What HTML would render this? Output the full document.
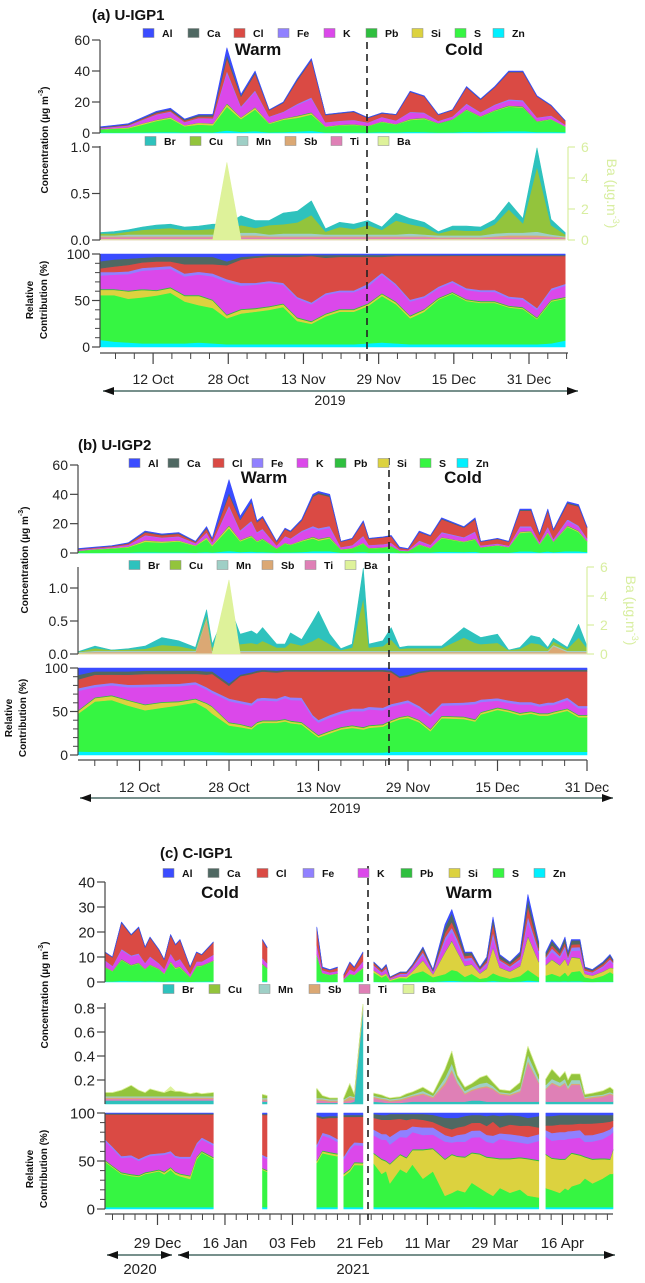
<!DOCTYPE html>
<html><head><meta charset="utf-8">
<style>
html,body{margin:0;padding:0;background:#fff;}
svg{display:block;font-family:"Liberation Sans",Arial,sans-serif;}
</style></head>
<body>
<svg id="chart" width="645" height="1283" viewBox="0 0 645 1283" xmlns="http://www.w3.org/2000/svg"></svg>
<script>
// ===== Panel (a) U-IGP1 =====
const aDays=[0,3,6,9,12,15,18,21,24,27,30,33,36,39,42,45,48,51,54,57,60,63,66,69,72,75,78,81,84,87,90,93,96,99];
const aTotal=[4,5,6,10,14,16,9,12,12,55,25,40,15,20,35,48,12,13,14,10,13,12,27,24,12,15,30,22,30,40,40,24,18,8];
const aZn=[8,6,5,4,4,4,4,5,4,3,3,3,3,3,3,3,3,3,3,4,5,4,3,3,3,3,3,3,3,3,3,3,4,7];
const aS=[50,52,48,50,52,55,45,40,38,28,33,35,37,40,25,22,30,35,35,40,50,42,28,35,48,55,47,45,45,40,38,27,45,45];
const aSi=[6,6,8,8,5,5,6,10,8,3,4,3,3,3,3,2,2,2,2,2,2,2,2,2,1,1,1,1,1,1,1,1,1,1];
const aPb=[1,1,1,1,1,1,1,1,1,1,1,1,1,1,1,1,1,1,1,1,1,1,1,1,1,1,1,1,1,1,1,1,1,1];
const aK=[15,16,18,20,22,20,20,22,25,35,25,25,25,20,20,18,20,18,18,18,20,17,15,12,10,10,10,10,10,8,8,8,10,12];
const aFe=[4,3,3,3,3,3,3,3,3,3,3,2,2,2,2,2,2,2,2,3,2,2,2,2,2,2,2,2,2,2,2,2,2,2];
const aCl=[4,6,7,6,6,5,10,8,10,15,25,27,26,28,43,50,38,36,36,29,17,30,47,43,33,27,35,37,37,44,45,56,35,30];
const aCa=[8,8,7,5,5,5,8,8,8,4,3,2,2,2,2,1,3,2,2,2,2,1,1,1,1,1,1,1,1,1,1,1,1,1];
const aAl=[8,6,5,4,3,3,3,3,3,8,3,2,1,1,1,1,1,1,1,1,1,1,1,1,1,1,1,1,1,1,1,1,1,1];
const aBr=[0.01,0.02,0.02,0.03,0.04,0.04,0.03,0.04,0.05,0.06,0.1,0.08,0.05,0.12,0.12,0.15,0.03,0.05,0.05,0.05,0.03,0.08,0.06,0.05,0.02,0.04,0.05,0.04,0.05,0.08,0.05,0.2,0.06,0.02];
const aCu=[0.02,0.02,0.03,0.05,0.06,0.07,0.05,0.05,0.06,0.05,0.08,0.05,0.1,0.1,0.12,0.2,0.03,0.08,0.06,0.1,0.05,0.15,0.1,0.08,0.02,0.06,0.05,0.05,0.1,0.25,0.1,0.7,0.1,0.02];
const aMn=[0.01,0.01,0.02,0.02,0.02,0.02,0.02,0.02,0.02,0.02,0.03,0.03,0.02,0.03,0.03,0.03,0.02,0.02,0.02,0.02,0.02,0.02,0.03,0.02,0.02,0.02,0.02,0.02,0.03,0.03,0.03,0.04,0.02,0.01];
const aSb=[0.01,0.01,0.01,0.01,0.01,0.01,0.01,0.01,0.01,0.01,0.02,0.02,0.01,0.01,0.01,0.01,0.01,0.01,0.01,0.01,0.01,0.01,0.01,0.01,0.01,0.01,0.01,0.01,0.01,0.02,0.02,0.02,0.01,0.01];
const aTi=[0.03,0.03,0.03,0.03,0.03,0.03,0.03,0.03,0.03,0.03,0.03,0.03,0.03,0.03,0.03,0.03,0.03,0.03,0.03,0.03,0.03,0.03,0.03,0.03,0.02,0.02,0.02,0.02,0.03,0.03,0.03,0.03,0.03,0.02];
const aBa=[0.03,0.03,0.03,0.03,0.03,0.03,0.03,0.03,0.03,5.0,0.03,0.03,0.03,0.03,0.03,0.03,0.03,0.03,0.03,0.03,0.03,0.03,0.03,0.03,0.03,0.03,0.03,0.03,0.03,0.03,0.03,0.03,0.03,0.03];
const aDateLabels=['12 Oct','28 Oct','13 Nov','29 Nov','15 Dec','31 Dec'];
const aDateDays=[11.3,27.3,43.3,59.3,75.3,91.3];

// ===== Panel (b) U-IGP2 =====
const bDays=[0,3,6,9,12,15,18,21,23,24,27,29,31,32,33,35.5,37,38,40,42,43,45,47,49,51,52,54.5,56,57.5,59,61,63,65,69,71,72,75,77,79,81,82.5,84,85,87.5,89.5,91];
const bTotal=[3,4,5,7,15,13,14,8,18,10,50,25,37,22,25,8,17,15,23,40,42,40,8,10,22,10,11,12,4,3,15,12,24,18,24,8,10,8,30,30,13,30,16,35,33,18];
const bZn=[4,4,4,4,4,4,4,4,4,4,3,3,3,3,3,3,3,3,3,3,3,3,3,3,3,3,3,4,4,4,4,4,4,4,4,4,4,4,4,4,4,4,4,4,4,4];
const bS=[43,60,63,55,48,52,56,60,52,46,32,31,28,32,34,34,36,34,32,22,17,22,26,28,26,28,30,35,40,40,36,24,40,40,36,45,50,48,44,46,44,44,46,50,42,42];
const bSi=[3,4,5,6,6,6,4,4,6,8,3,3,2,2,2,2,2,2,2,2,2,2,2,2,2,2,2,2,2,2,2,2,2,2,2,2,2,2,2,2,2,2,2,2,2,2];
const bPb=[1,1,1,1,1,1,1,1,1,1,1,1,1,1,1,1,1,1,1,1,1,1,1,1,1,1,1,1,1,1,1,1,1,1,1,1,1,1,1,1,1,1,1,1,1,1];
const bK=[22,12,12,15,20,18,18,17,16,16,25,25,25,24,23,22,24,24,25,15,14,15,15,16,18,18,16,16,15,15,14,14,12,14,18,12,8,8,10,8,8,10,8,10,8,8];
const bFe=[3,3,3,3,3,3,3,3,3,3,3,3,3,3,3,3,3,3,3,3,3,3,3,3,3,3,3,3,3,3,3,3,3,3,3,3,3,3,3,3,3,3,3,3,3,3];
const bCl=[10,12,10,12,12,12,12,10,15,20,15,30,35,30,30,30,28,30,30,50,55,50,45,42,42,40,42,38,30,28,40,50,38,38,36,34,32,35,37,37,40,38,38,32,42,42];
const bCa=[5,4,4,4,4,4,4,4,4,3,3,2,2,2,2,2,2,2,2,2,2,2,2,2,2,2,2,2,2,2,2,2,2,2,2,2,2,2,2,2,2,2,2,2,2,2];
const bAl=[8,4,4,4,3,3,3,3,4,4,18,8,5,3,2,3,2,2,2,2,2,2,2,2,2,2,2,3,10,8,4,2,2,2,2,2,2,2,2,2,2,2,2,2,2,2];
const bBr=[0.0,0.03,0.0,0.01,0.04,0.11,0.08,0.03,0.08,0.05,0.4,0.15,0.18,0.15,0.2,0.05,0.05,0.15,0.09,0.3,0.4,0.15,0.02,0.05,0.45,0.05,0.08,0.18,0.02,0.03,0.03,0.03,0.03,0.15,0.13,0.1,0.13,0.0,0.02,0.11,0.1,0.02,0.05,0.02,0.2,0.03];
const bCu=[0.005,0.04,0.01,0.02,0.03,0.09,0.07,0.02,0.04,0.05,0.3,0.1,0.12,0.1,0.15,0.05,0.05,0.12,0.08,0.15,0.2,0.1,0.01,0.05,0.8,0.05,0.07,0.17,0.03,0.04,0.04,0.04,0.04,0.2,0.12,0.1,0.12,0.01,0.03,0.12,0.1,0.03,0.05,0.03,0.2,0.04];
const bMn=[0.01,0.02,0.02,0.02,0.02,0.02,0.02,0.02,0.02,0.02,0.02,0.02,0.02,0.02,0.02,0.02,0.02,0.02,0.02,0.02,0.02,0.02,0.02,0.02,0.02,0.02,0.02,0.02,0.02,0.02,0.02,0.02,0.02,0.02,0.02,0.02,0.02,0.02,0.02,0.02,0.02,0.02,0.02,0.02,0.02,0.02];
const bSb=[0.01,0.01,0.01,0.01,0.01,0.01,0.01,0.01,0.51,0.01,0.01,0.01,0.01,0.01,0.01,0.01,0.01,0.01,0.01,0.01,0.01,0.01,0.01,0.01,0.01,0.01,0.01,0.01,0.01,0.01,0.01,0.01,0.01,0.01,0.01,0.01,0.01,0.01,0.01,0.01,0.01,0.01,0.1,0.01,0.01,0.01];
const bTi=[0.01,0.02,0.02,0.02,0.02,0.02,0.02,0.02,0.02,0.02,0.02,0.02,0.02,0.02,0.02,0.02,0.02,0.02,0.02,0.02,0.02,0.02,0.02,0.02,0.02,0.02,0.02,0.02,0.02,0.02,0.02,0.02,0.02,0.02,0.02,0.02,0.02,0.02,0.02,0.02,0.02,0.02,0.02,0.02,0.02,0.02];
const bBa=[0.02,0.02,0.02,0.02,0.02,0.02,0.02,0.02,0.02,0.02,5.1,0.02,0.02,0.02,0.02,0.02,0.02,0.02,0.02,0.02,0.02,0.02,0.02,0.02,0.02,0.02,0.02,0.02,0.02,0.02,0.02,0.02,0.02,0.02,0.02,0.02,0.02,0.02,0.02,0.02,0.02,0.02,0.02,0.02,0.02,0.02];
const bDateLabels=['12 Oct','28 Oct','13 Nov','29 Nov','15 Dec','31 Dec'];
const bDateDays=[11,27,43,59,75,91];

// ===== Panel (c) C-IGP1 =====
const cDays=[0,2,4.4,7,9,10.7,12,14.4,15.8,17.5,18.8,20,22.7,24.4,25.8,28.9,42,43.2,56.5,58,60,62,63.7,65.3,66.5,68.8,71.7,73.8,75,76,78.7,80.4,82,84.8,87.5,90.7,92.5,94,96,97.8,100,101.8,103.5,105.3,108,110.7,112.8,115.7,117.6,119.2,121.3,122.7,123.5,124.4,126.7,128,130,132.8,134.7,135.5];
const cSegments=[[0,15],[16,17],[18,21],[22,25],[26,47],[48,59]];
const cTotal=[12,10,24,19,22,14,18,13,9,19,15,17,6,12,11,16,17,14,22,6,5,6,3,8,6,12,8,5,7,2,4,4,7,14,5,23,29,22,12,12,6,10,26,11,8,12,35,16,12,17,13,18,12,17,17,6,5,8,11,9];
const cZn=[2,2,2,2,2,2,2,2,2,2,2,2,2,2,2,2,2,2,2,2,2,2,2,2,2,2,2,2,2,2,2,2,2,2,2,2,2,2,2,2,2,2,2,2,2,2,2,2,2,2,2,2,2,2,2,2,2,2,2,2];
const cS=[48,42,35,33,32,35,36,38,35,40,35,33,30,50,57,50,40,38,48,58,55,53,33,38,45,45,45,35,38,25,40,35,45,30,40,12,15,18,15,25,20,15,12,20,15,18,12,10,20,18,15,20,18,22,25,30,25,30,35,35];
const cSi=[1,1,1,1,1,1,1,1,2,2,2,2,3,2,1,1,1,1,2,2,2,2,2,2,2,2,10,15,10,20,15,15,15,30,25,38,40,35,35,30,35,35,40,30,35,32,38,38,35,33,35,30,35,35,30,22,25,20,15,25];
const cPb=[1,1,1,1,1,1,1,1,1,1,1,1,1,1,1,1,1,1,1,1,1,1,1,1,1,1,1,1,1,1,1,1,1,1,1,1,1,1,1,1,1,1,1,1,1,1,1,1,1,1,1,1,1,1,1,1,1,1,1,1];
const cK=[20,18,15,18,15,15,16,15,18,15,15,16,18,12,12,12,12,12,14,16,15,12,15,20,18,18,18,20,22,20,18,20,18,15,15,18,12,15,15,15,17,15,15,20,18,15,15,20,18,18,20,20,18,15,18,15,18,20,25,18];
const cFe=[2,2,2,2,2,2,2,2,2,2,2,2,2,2,2,2,2,2,3,3,3,3,3,3,3,3,6,6,6,8,7,8,6,8,8,7,6,7,8,7,7,7,8,6,7,7,7,7,7,8,8,8,8,8,8,7,7,7,6,6];
const cCl=[26,34,44,43,47,44,42,41,41,39,44,45,45,30,24,30,43,45,30,15,18,22,42,32,27,28,12,15,15,18,12,10,8,8,6,8,8,8,8,8,8,9,15,6,10,10,12,7,5,8,8,8,7,7,7,12,12,10,8,6];
const cCa=[1,1,1,1,1,1,1,1,1,1,1,1,1,1,1,1,1,1,2,2,2,2,2,2,2,2,4,5,5,6,5,6,5,6,8,10,12,10,10,8,8,10,7,12,10,10,8,12,10,10,10,10,10,10,9,9,9,8,7,6];
const cAl=[0.5,0.5,0.5,0.5,0.5,0.5,0.5,0.5,0.5,0.5,0.5,0.5,0.5,0.5,0.5,0.5,1,1,2,4,3,3,2,2,2,2,1,2,2,1,1,1,1,1,2,5,5,5,3,2,2,3,2,3,2,3,5,3,3,3,2,2,2,2,2,2,2,2,2,2];
const cBr=[0.03,0.03,0.03,0.03,0.03,0.03,0.03,0.03,0.03,0.03,0.03,0.03,0.03,0.03,0.03,0.03,0.02,0.02,0.01,0.01,0.01,0.01,0.01,0.01,0.02,0.78,0.02,0.015,0.01,0.01,0.01,0.015,0.02,0.02,0.02,0.02,0.02,0.02,0.02,0.03,0.03,0.02,0.02,0.02,0.02,0.02,0.02,0.02,0.02,0.02,0.02,0.02,0.02,0.02,0.02,0.02,0.02,0.02,0.02,0.02];
const cTi=[0.015,0.015,0.015,0.015,0.015,0.015,0.015,0.015,0.015,0.015,0.015,0.015,0.015,0.015,0.015,0.015,0.01,0.01,0.02,0.02,0.01,0.01,0.01,0.02,0.02,0.01,0.03,0.02,0.02,0.01,0.02,0.03,0.04,0.06,0.03,0.14,0.25,0.15,0.06,0.08,0.1,0.12,0.1,0.06,0.05,0.08,0.32,0.15,0.1,0.15,0.12,0.15,0.1,0.14,0.14,0.02,0.03,0.04,0.06,0.05];
const cSb=[0.01,0.01,0.01,0.01,0.01,0.01,0.01,0.01,0.01,0.01,0.01,0.01,0.01,0.01,0.01,0.01,0.01,0.01,0.01,0.01,0.01,0.01,0.01,0.03,0.01,0.01,0.01,0.01,0.01,0.01,0.01,0.01,0.01,0.01,0.01,0.02,0.02,0.01,0.01,0.01,0.01,0.01,0.01,0.01,0.01,0.01,0.02,0.01,0.01,0.01,0.01,0.01,0.01,0.01,0.01,0.01,0.01,0.01,0.01,0.01];
const cMn=[0.01,0.01,0.01,0.01,0.01,0.01,0.01,0.01,0.01,0.01,0.01,0.01,0.01,0.01,0.01,0.01,0.01,0.01,0.01,0.01,0.01,0.01,0.01,0.01,0.01,0.01,0.01,0.01,0.01,0.01,0.01,0.01,0.01,0.02,0.01,0.04,0.05,0.03,0.02,0.02,0.03,0.03,0.02,0.01,0.01,0.02,0.05,0.03,0.03,0.03,0.03,0.03,0.02,0.03,0.03,0.01,0.01,0.01,0.01,0.01];
const cCu=[0.03,0.03,0.05,0.09,0.05,0.03,0.06,0.04,0.03,0.05,0.04,0.04,0.02,0.03,0.02,0.03,0.03,0.02,0.08,0.02,0.01,0.01,0.01,0.1,0.02,0.02,0.02,0.02,0.01,0.01,0.01,0.02,0.02,0.03,0.02,0.07,0.1,0.03,0.03,0.03,0.05,0.06,0.03,0.02,0.02,0.05,0.07,0.04,0.05,0.08,0.04,0.06,0.05,0.05,0.05,0.02,0.02,0.03,0.04,0.03];
const cBa=[0.002,0.002,0.002,0.002,0.002,0.002,0.002,0.002,0.002,0.03,0.002,0.002,0.002,0.002,0.002,0.002,0.002,0.002,0.002,0.002,0.002,0.002,0.002,0.002,0.002,0.002,0.002,0.002,0.002,0.002,0.002,0.002,0.002,0.002,0.002,0.002,0.002,0.002,0.002,0.002,0.002,0.002,0.002,0.002,0.002,0.002,0.002,0.002,0.002,0.002,0.002,0.002,0.002,0.002,0.002,0.002,0.002,0.002,0.002,0.002];
const cDateLabels=['29 Dec','16 Jan','03 Feb','21 Feb','11 Mar','29 Mar','16 Apr'];
const cDateDays=[14,32,50,68,86,104,122];

const majorNames=['Al','Ca','Cl','Fe','K','Pb','Si','S','Zn'];
const traceNames=['Br','Cu','Mn','Sb','Ti','Ba'];

// ===== rendering =====
const NS='http://www.w3.org/2000/svg';
const svg=document.getElementById('chart');
const COL={Al:'#3a4cff',Ca:'#4f6862',Cl:'#da4a44',Fe:'#9080ff',K:'#db48ea',Pb:'#2fbf3f',Si:'#dcd23f',S:'#36f542',Zn:'#00f0ff',
 Br:'#2ec2bd',Cu:'#93c43c',Mn:'#9fcfc6',Sb:'#dba874',Ti:'#df80b6',Ba:'#def29a'};
const ORDER=['Zn','S','Si','Pb','K','Fe','Cl','Ca','Al'];

function mk(tag,attrs,parent,name){
  const e=document.createElementNS(NS,tag);
  for(const k in attrs) e.setAttribute(k,attrs[k]);
  
  
  parent.appendChild(e);
  return e;
}
function txt(parent,x,y,s,attrs,name){
  const e=mk('text',Object.assign({x:x,y:y},attrs||{}),parent,name);
  e.textContent=s;
  return e;
}
function stack(g,layers,X,Y,segs,days,prefix){
  let base=days.map(()=>0);
  layers.forEach(L=>{
    const top=base.map((b,i)=>b+L.vals[i]);
    segs.forEach(([s,e])=>{
      let d='';
      for(let i=s;i<=e;i++) d+=(i===s?'M':'L')+X(days[i]).toFixed(1)+','+Y(top[i]).toFixed(1);
      for(let i=e;i>=s;i--) d+='L'+X(days[i]).toFixed(1)+','+Y(base[i]).toFixed(1);
      d+='Z';
      mk('path',{d:d,fill:L.color,stroke:L.color,'stroke-width':0.6,'stroke-linejoin':'round'},g,prefix+'-area-'+L.k.toLowerCase());
    });
    base=top;
  });
}
function leftAxis(g,x,yTop,yBot,ticks,labels,minors,Y,fs,name){
  mk('line',{x1:x,y1:yTop,x2:x,y2:yBot,stroke:'#444','stroke-width':1.2},g,name+'-line');
  ticks.forEach((v,i)=>{
    mk('line',{x1:x-8,y1:Y(v),x2:x,y2:Y(v),stroke:'#444','stroke-width':1.2},g,name+'-tick');
    txt(g,x-10,Y(v)+fs*0.36,labels[i],{'font-size':fs,'text-anchor':'end',fill:'#222'},name+'-tick-label');
  });
  minors.forEach(v=>{
    mk('line',{x1:x-5,y1:Y(v),x2:x,y2:Y(v),stroke:'#444','stroke-width':1},g,name+'-minor-tick');
  });
}
function legend(g,names,xs,y,prefix){
  names.forEach((n,i)=>{
    mk('rect',{x:xs[i],y:y-4.5,width:11,height:9,fill:COL[n],stroke:'#888','stroke-width':0.5},g,prefix+'-swatch-'+n.toLowerCase());
    txt(g,xs[i]+19,y+4,n,{'font-size':10.5,'font-weight':'bold',fill:'#111'},prefix+'-label-'+n.toLowerCase());
  });
}
function arrow(g,x1,x2,y,left,right,name){
  mk('line',{x1:x1,y1:y,x2:x2,y2:y,stroke:'#4a6b66','stroke-width':1.5},g,name);
  if(left) mk('polygon',{points:`${x1},${y} ${x1+11},${y-4} ${x1+11},${y+4}`,fill:'#111'},g,name+'-head-left');
  if(right) mk('polygon',{points:`${x2},${y} ${x2-11},${y-4} ${x2-11},${y+4}`,fill:'#111'},g,name+'-head-right');
}
function concTitle(g,x,y,name){
  const t=mk('text',{x:0,y:0,transform:`translate(${x},${y}) rotate(-90)`,'font-size':10,'font-weight':'bold','text-anchor':'middle',fill:'#111'},g,name);
  t.innerHTML='Concentration (µg m<tspan font-size="7" dy="-5">-3</tspan><tspan dy="5">)</tspan>';
}
function relTitle(g,x,y,name){
  const t=mk('text',{x:0,y:0,transform:`translate(${x},${y}) rotate(-90)`,'font-size':10,'font-weight':'bold','text-anchor':'middle',fill:'#111'},g,name);
  t.innerHTML='<tspan x="0" dy="0">Relative</tspan><tspan x="0" dy="14">Contribution (%)</tspan>';
}
function baAxis(g,x,y0,px,titleX,name){
  const Y=v=>y0-v*px;
  mk('line',{x1:x,y1:Y(6),x2:x,y2:Y(0),stroke:'#d8eea0','stroke-width':1.2},g,name+'-line');
  [0,2,4,6].forEach(v=>{
    mk('line',{x1:x,y1:Y(v),x2:x+7,y2:Y(v),stroke:'#d8eea0','stroke-width':1.2},g,name+'-tick');
    txt(g,x+13,Y(v)+5,String(v),{'font-size':14,fill:'#d8eea0'},name+'-tick-label');
  });
  const t=mk('text',{x:0,y:0,transform:`translate(${titleX},${(Y(6)+Y(0))/2}) rotate(90)`,'font-size':14,'text-anchor':'middle',fill:'#d8eea0'},g,name+'-title');
  t.innerHTML='Ba (µg.m<tspan font-size="9" dy="-6">-3</tspan><tspan dy="6">)</tspan>';
}

function buildPanel(P){
  const g=mk('g',{},svg,'panel-'+P.id);
  const X=d=>P.x0+(d-P.d0)/(P.d1-P.d0)*(P.x1-P.x0);
  const sums=P.days.map((_,i)=>ORDER.reduce((s,k)=>s+P.shares[k][i],0));
  const Yt=v=>P.topY0-v*P.topPx;
  const Ym=v=>P.midY0-v*P.midPx;
  const Yr=v=>P.relY0-v*(P.relY0-P.relY100)/100;
  const gc=mk('g',{},g,'concentration-plot');
  stack(gc,ORDER.map(k=>({k:k,color:COL[k],vals:P.total.map((t,i)=>t*P.shares[k][i]/sums[i])})),X,Yt,P.segs,P.days,'conc');
  const gt=mk('g',{},g,'trace-plot');
  stack(gt,P.traceOrder.map(k=>({k:k,color:COL[k],vals:P.trace[k]})),X,Ym,P.segs,P.days,'trace');
  if(P.ba) stack(gt,[{k:'Ba',color:COL.Ba,vals:P.ba}],X,v=>P.midY0-v*P.baPx,P.segs,P.days,'ba');
  const gr=mk('g',{},g,'relative-plot');
  stack(gr,ORDER.map(k=>({k:k,color:COL[k],vals:P.shares[k].map((s,i)=>100*s/sums[i])})),X,Yr,P.segs,P.days,'rel');
  // axes
  leftAxis(g,P.x0,P.topAxisTop,P.topY0,P.topTicks,P.topTicks.map(String),[],Yt,P.fs,'conc-y-axis');
  leftAxis(g,P.x0,P.midAxisTop,P.midY0,P.midTicks,P.midLabels,[],Ym,P.fs,'trace-y-axis');
  leftAxis(g,P.x0,P.relY100,P.relY0,[0,50,100],['0','50','100'],[10,20,30,40,60,70,80,90],Yr,P.fs,'rel-y-axis');
  if(P.ba) baAxis(g,P.x1,P.midY0,P.baPx,P.baTitleX,'ba-y-axis');
  // x axis
  mk('line',{x1:P.x0,y1:P.xAxisY,x2:P.x1,y2:P.xAxisY,stroke:'#444','stroke-width':1.2},g,'x-axis-line');
  P.dateDays.forEach((d,i)=>{
    mk('line',{x1:X(d),y1:P.xAxisY,x2:X(d),y2:P.xAxisY+11,stroke:'#444','stroke-width':1.2},g,'x-major-tick');
    txt(g,X(d),P.labelY,P.dateLabels[i],{'font-size':P.fs,'text-anchor':'middle',fill:'#222'},'x-tick-label');
  });
  for(let d=P.minorStart;d<=P.d1;d+=P.minorStep){
    if(P.dateDays.some(m=>Math.abs(m-d)<0.5)) continue;
    mk('line',{x1:X(d),y1:P.xAxisY,x2:X(d),y2:P.xAxisY+6,stroke:'#444','stroke-width':1},g,'x-minor-tick');
  }
  // dashed season divider
  mk('line',{x1:P.dashX,y1:P.dashY1,x2:P.dashX,y2:P.dashY2,stroke:'#222','stroke-width':1.6,'stroke-dasharray':'7,5'},g,'season-divider');
}

buildPanel({id:'a',days:aDays,segs:[[0,aDays.length-1]],x0:100,x1:568,d0:0,d1:99.6,
 total:aTotal,shares:{Zn:aZn,S:aS,Si:aSi,Pb:aPb,K:aK,Fe:aFe,Cl:aCl,Ca:aCa,Al:aAl},
 trace:{Ti:aTi,Sb:aSb,Mn:aMn,Cu:aCu,Br:aBr},traceOrder:['Ti','Sb','Mn','Cu','Br'],ba:aBa,baPx:93/6,baTitleX:607,
 topY0:133,topPx:93/60,topAxisTop:40,topTicks:[0,20,40,60],
 midY0:240,midPx:93,midAxisTop:146,midTicks:[0,0.5,1],midLabels:['0.0','0.5','1.0'],
 relY0:347,relY100:254,xAxisY:353,labelY:384,fs:14,dateDays:aDateDays,dateLabels:aDateLabels,minorStart:3.3,minorStep:4,
 dashX:367,dashY1:30,dashY2:362});

buildPanel({id:'b',days:bDays,segs:[[0,bDays.length-1]],x0:78,x1:587,d0:0,d1:91,
 total:bTotal,shares:{Zn:bZn,S:bS,Si:bSi,Pb:bPb,K:bK,Fe:bFe,Cl:bCl,Ca:bCa,Al:bAl},
 trace:{Ti:bTi,Sb:bSb,Mn:bMn,Cu:bCu,Br:bBr},traceOrder:['Ti','Sb','Mn','Cu','Br'],ba:bBa,baPx:87/6,baTitleX:626,
 topY0:553,topPx:88/60,topAxisTop:465,topTicks:[0,20,40,60],
 midY0:654,midPx:66,midAxisTop:567,midTicks:[0,0.5,1],midLabels:['0.0','0.5','1.0'],
 relY0:755,relY100:668,xAxisY:760,labelY:792,fs:14,dateDays:bDateDays,dateLabels:bDateLabels,minorStart:3,minorStep:4,
 dashX:389,dashY1:458,dashY2:767});

buildPanel({id:'c',days:cDays,segs:cSegments,x0:105,x1:613,d0:0,d1:135.5,
 total:cTotal,shares:{Zn:cZn,S:cS,Si:cSi,Pb:cPb,K:cK,Fe:cFe,Cl:cCl,Ca:cCa,Al:cAl},
 trace:{Br:cBr,Ti:cTi,Sb:cSb,Mn:cMn,Cu:cCu,Ba:cBa},traceOrder:['Br','Ti','Sb','Mn','Cu','Ba'],ba:null,
 topY0:982,topPx:2.5,topAxisTop:882,topTicks:[0,10,20,30,40],
 midY0:1104,midPx:120,midAxisTop:1003,midTicks:[0.2,0.4,0.6,0.8],midLabels:['0.2','0.4','0.6','0.8'],
 relY0:1209,relY100:1113,xAxisY:1214,labelY:1248,fs:15,dateDays:cDateDays,dateLabels:cDateLabels,minorStart:2,minorStep:3,
 dashX:368,dashY1:866,dashY2:1220});

// static labels
const L=mk('g',{},svg,'annotations');
txt(L,92,20,'(a) U-IGP1',{'font-size':15,'font-weight':'bold',fill:'#111'},'panel-a-title');
txt(L,78,450,'(b) U-IGP2',{'font-size':15,'font-weight':'bold',fill:'#111'},'panel-b-title');
txt(L,160,858,'(c) C-IGP1',{'font-size':15,'font-weight':'bold',fill:'#111'},'panel-c-title');
legend(L,majorNames,[143,188,234,278,324,366,412,455,493],33,'legend-a-major');
legend(L,traceNames,[145,190,237,285,331,378],141,'legend-a-trace');
legend(L,majorNames,[129,168,213,252,297,335,378,420,457],463,'legend-b-major');
legend(L,traceNames,[129,170,217,262,305,345],565,'legend-b-trace');
legend(L,majorNames,[163,208,257,303,358,401,449,493,534],873,'legend-c-major');
legend(L,traceNames,[163,209,259,309,359,403],989,'legend-c-trace');
txt(L,258,55,'Warm',{'font-size':17,'font-weight':'bold','text-anchor':'middle',fill:'#111'},'season-warm-a');
txt(L,464,55,'Cold',{'font-size':17,'font-weight':'bold','text-anchor':'middle',fill:'#111'},'season-cold-a');
txt(L,264,483,'Warm',{'font-size':17,'font-weight':'bold','text-anchor':'middle',fill:'#111'},'season-warm-b');
txt(L,463,483,'Cold',{'font-size':17,'font-weight':'bold','text-anchor':'middle',fill:'#111'},'season-cold-b');
txt(L,220,898,'Cold',{'font-size':17,'font-weight':'bold','text-anchor':'middle',fill:'#111'},'season-cold-c');
txt(L,469,898,'Warm',{'font-size':17,'font-weight':'bold','text-anchor':'middle',fill:'#111'},'season-warm-c');
concTitle(L,48,140,'conc-axis-title-a');
relTitle(L,33,300,'rel-axis-title-a');
concTitle(L,28,560,'conc-axis-title-b');
relTitle(L,12,718,'rel-axis-title-b');
concTitle(L,48,995,'conc-axis-title-c');
relTitle(L,33,1169,'rel-axis-title-c');
arrow(L,103,578,391,true,true,'year-arrow-a');
txt(L,330,405,'2019',{'font-size':14,'text-anchor':'middle',fill:'#222'},'year-label-a');
arrow(L,80,613,798,true,true,'year-arrow-b');
txt(L,345,813,'2019',{'font-size':14,'text-anchor':'middle',fill:'#222'},'year-label-b');
arrow(L,107,172,1255,true,true,'year-arrow-c-2020');
arrow(L,178,615,1255,true,true,'year-arrow-c-2021');
txt(L,140,1274,'2020',{'font-size':15,'text-anchor':'middle',fill:'#222'},'year-label-c-2020');
txt(L,353,1274,'2021',{'font-size':15,'text-anchor':'middle',fill:'#222'},'year-label-c-2021');
</script>
</body></html>
